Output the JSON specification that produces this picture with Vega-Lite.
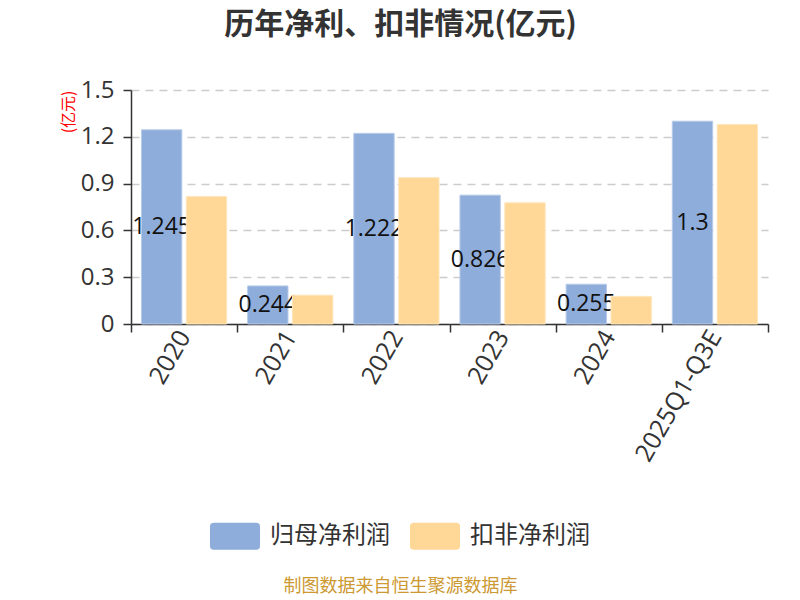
{
  "$schema": "https://vega.github.io/schema/vega-lite/v6.json",
  "width": 637,
  "height": 234,
  "autosize": {"type": "none"},
  "padding": {"left": 131, "top": 90, "right": 32, "bottom": 276},
  "background": "white",
  "config": {"font": "Noto Sans CJK SC", "view": {"stroke": null}},
  "title": {"text": "历年净利、扣非情况(亿元)", "fontSize": 30, "fontWeight": "bold", "color": "#333333", "anchor": "middle", "dx": -49, "offset": 38},
  "data": {"values": [
    {"year": "2020", "series": "归母净利润", "value": 1.245},
    {"year": "2021", "series": "归母净利润", "value": 0.244},
    {"year": "2022", "series": "归母净利润", "value": 1.222},
    {"year": "2023", "series": "归母净利润", "value": 0.826},
    {"year": "2024", "series": "归母净利润", "value": 0.255},
    {"year": "2025Q1-Q3E", "series": "归母净利润", "value": 1.3},
    {"year": "2020", "series": "扣非净利润", "value": 0.817},
    {"year": "2021", "series": "扣非净利润", "value": 0.185},
    {"year": "2022", "series": "扣非净利润", "value": 0.938},
    {"year": "2023", "series": "扣非净利润", "value": 0.777},
    {"year": "2024", "series": "扣非净利润", "value": 0.177},
    {"year": "2025Q1-Q3E", "series": "扣非净利润", "value": 1.279}
  ]},
  "encoding": {
    "x": {"field": "year", "type": "nominal", "sort": null,
      "scale": {"paddingInner": 0, "paddingOuter": 0},
      "axis": {"title": "制图数据来自恒生聚源数据库", "titleColor": "#CC9933", "titleFontSize": 18, "titleFontWeight": "normal",
        "titleX": 269, "titleY": 253, "titleAlign": "center",
        "labelAngle": -60, "labelFont": "Open Sans", "labelFontSize": 25, "labelColor": "#333333", "tickBand": "extent", "tickSize": 8,
        "domainColor": "#333333", "tickColor": "#333333", "domainWidth": 1.5, "tickWidth": 1.5, "labelPadding": 0, "grid": false}},
    "xOffset": {"field": "series", "type": "nominal", "sort": ["归母净利润", "扣非净利润"],
      "scale": {"domain": ["归母净利润", "扣非净利润"], "paddingInner": 0.1, "paddingOuter": 0.233}}
  },
  "layer": [
    {"transform": [{"filter": "datum.series === '归母净利润'"}],
      "mark": {"type": "bar", "stroke": "#B7CBE8", "strokeWidth": 1},
      "encoding": {
        "y": {"field": "value", "type": "quantitative", "scale": {"domain": [0, 1.5]},
          "axis": {"title": "(亿元)", "titleColor": "red", "titleFontSize": 16, "titleFontWeight": "normal", "titleAnchor": "end", "titlePadding": 4,
            "values": [0, 0.3, 0.6, 0.9, 1.2, 1.5], "format": "~g", "labelFont": "Open Sans", "labelFontSize": 24, "labelColor": "#333333", "labelPadding": 9,
            "grid": true, "gridDash": [8, 6], "gridColor": "#cccccc", "gridWidth": 1.5,
            "domainColor": "#333333", "tickColor": "#333333", "domainWidth": 1.5, "tickWidth": 1.5, "tickSize": 8}},
        "color": {"field": "series", "type": "nominal",
        "scale": {"domain": ["归母净利润", "扣非净利润"], "range": ["#8FADDB", "#FFD898"]},
        "legend": {"title": null, "orient": "none", "direction": "horizontal", "legendX": 79, "legendY": 421,
          "symbolType": "M-0.85,-0.54L0.85,-0.54Q1,-0.54 1,-0.39L1,0.39Q1,0.54 0.85,0.54L-0.85,0.54Q-1,0.54 -1,0.39L-1,-0.39Q-1,-0.54 -0.85,-0.54Z",
          "symbolSize": 2500, "symbolStrokeWidth": 0, "symbolOpacity": 1, "labelFontSize": 24, "labelColor": "#333333",
          "labelOffset": 10, "columnPadding": 20}}}},
    {"transform": [{"filter": "datum.series === '归母净利润'"}],
      "mark": {"type": "text", "fontSize": 23, "font": "Open Sans", "color": "#111111", "baseline": "middle", "align": "center"},
      "encoding": {
        "y": {"field": "value", "type": "quantitative", "scale": {"domain": [0, 3]}, "axis": null},
        "text": {"field": "value", "type": "nominal"}}},
    {"transform": [{"filter": "datum.series === '扣非净利润'"}],
      "mark": {"type": "bar", "stroke": "#FFE6BD", "strokeWidth": 1},
      "encoding": {
        "y": {"field": "value", "type": "quantitative", "scale": {"domain": [0, 1.5]}, "axis": null},
        "color": {"field": "series", "type": "nominal"}}}
  ],
  "resolve": {"scale": {"y": "independent"}}
}
